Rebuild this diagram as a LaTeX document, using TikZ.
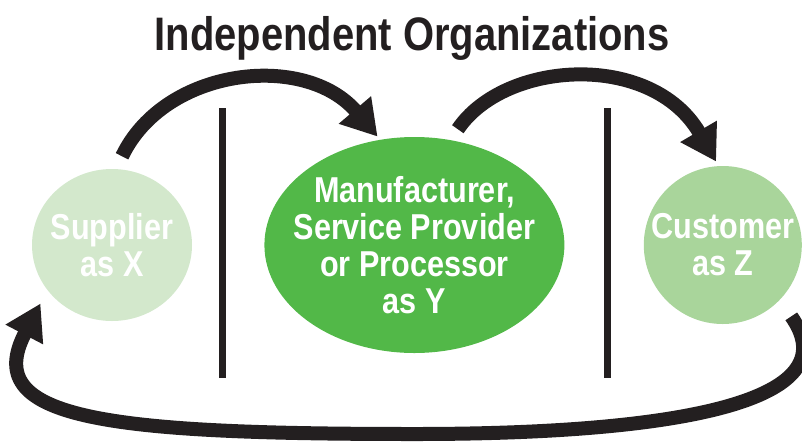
\documentclass[tikz,border=0pt]{standalone}
\usepackage{fontspec}
\usetikzlibrary{shapes.geometric, arrows.meta, positioning}
\newfontfamily\condsans[FakeStretch=0.85]{Liberation Sans}
\definecolor{supgreen}{RGB}{211,232,204}
\definecolor{mfrgreen}{RGB}{82,184,72}
\definecolor{custgreen}{RGB}{169,213,155}
\definecolor{inkblack}{RGB}{35,31,32}

\begin{document}
\begin{tikzpicture}[
        x=1pt, y=-1pt,
        org/.style={ellipse, inner ysep=0pt, text=white, align=center, font=\condsans\bfseries\fontsize{36}{37}\selectfont},
        flow/.style={line width=14pt, draw=inkblack, -{Triangle[length=35pt, width=40pt]}},
        divider/.style={line width=7pt, draw=inkblack}
    ]
        \useasboundingbox (0,0) rectangle (802,445);

        \node[font=\condsans\bfseries\fontsize{47}{50}\selectfont, text=inkblack, anchor=base] (title) at (412,50) {Independent Organizations};
        \node[org, fill=supgreen, minimum width=160pt, minimum height=152pt, inner xsep=-6pt] (sup) at (112,245) {Supplier\\as X};
        \node[org, fill=mfrgreen, minimum width=300pt, minimum height=216pt, inner xsep=-16pt, right=72pt of sup] (mfr) {Manufacturer,\\Service Provider\\or Processor\\as Y};
        \node[org, fill=custgreen, minimum width=158pt, minimum height=158pt, inner xsep=-16pt, right=79pt of mfr] (cust) {Customer\\as Z};
        \coordinate (loop) at (415,434);

        % dividers between the organizations
        \draw[divider] (222,108) -- (222,378);
        \draw[divider] (607,108) -- (607,378);

        \draw[flow, shorten <=14pt, shorten >=4pt] (sup.87) .. controls +(49,-102) and +(-75,-88) .. (mfr.108);
        \draw[flow, shorten <=13pt, shorten >=5pt] (mfr.71) .. controls +(54,-80) and +(-67,-115) .. (cust.93);
        \draw[flow, shorten <=20pt, shorten >=15pt] (cust.-44) .. controls +(71,101) and +(265,0) .. (loop) .. controls +(-315,0) and +(-67,128) .. (sup.-145);
    \end{tikzpicture}
\end{document}
